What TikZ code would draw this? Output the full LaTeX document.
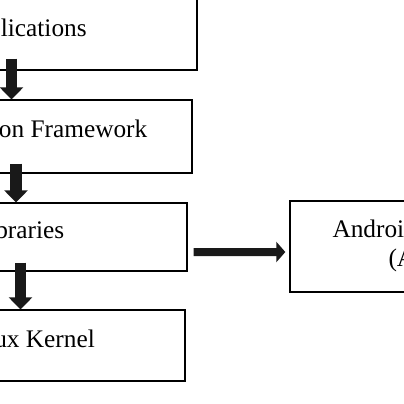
\documentclass[tikz,border=0pt]{standalone}
\usepackage{fontspec}
\setmainfont{Liberation Serif}
\usetikzlibrary{arrows.meta}

\begin{document}
\begin{tikzpicture}[x=0.025cm, y=-0.025cm,
    layer/.style={rectangle, draw, line width=0.9pt, inner sep=0pt},
    lbl/.style={anchor=base, inner sep=0pt, font=\fontsize{18}{20.6}\selectfont},
    ptr/.style={-{Triangle[width=0.575cm, length=0.3cm]}, line width=0.2875cm, draw=black!90},
    sideptr/.style={-{Triangle[width=0.5cm, length=0.225cm]}, line width=0.2cm, draw=black!90}
]
    \useasboundingbox (0,0) rectangle (404,404);
    \clip (0,0) rectangle (404,404);

    \node[layer, minimum width=8.75cm, minimum height=1.875cm] (app) at (22,32.5) {};
    \node[layer, minimum width=8.3cm, minimum height=1.825cm] (fw) at (26,136.5) {};
    \node[layer, minimum width=8.3cm, minimum height=1.7cm] (lib) at (21,237) {};
    \node[layer, minimum width=8.05cm, minimum height=1.775cm] (ker) at (24,345.5) {};
    \node[layer, minimum width=6.6cm, minimum height=2.275cm] (art) at (422,246.5) {};

    \node[lbl] (tapp) at (22,36) {Applications};
    \node[lbl] (tfw) at (26,137) {Application Framework};
    \node[lbl] (tlib) at (18.5,238) {Libraries};
    \node[lbl] (tker) at (27,347) {Linux Kernel};
    \node[lbl, align=center, anchor=center] (tart) at (421.5,245.5) {Android Runtime\\(ART)};

    \draw[ptr] ([shift={(-10.5,-12)}]app.south) -- ([shift={(-14.5,0)}]fw.north);
    \draw[ptr] ([shift={(-10,-10)}]fw.south) -- ([shift={(-5,0)}]lib.north);
    \draw[ptr] ([shift={(-0.5,-9)}]lib.south) -- ([shift={(-3.5,0)}]ker.north);
    \draw[sideptr] ([shift={(6,15)}]lib.east) -- ([shift={(-4,5.5)}]art.west);
\end{tikzpicture}
\end{document}
